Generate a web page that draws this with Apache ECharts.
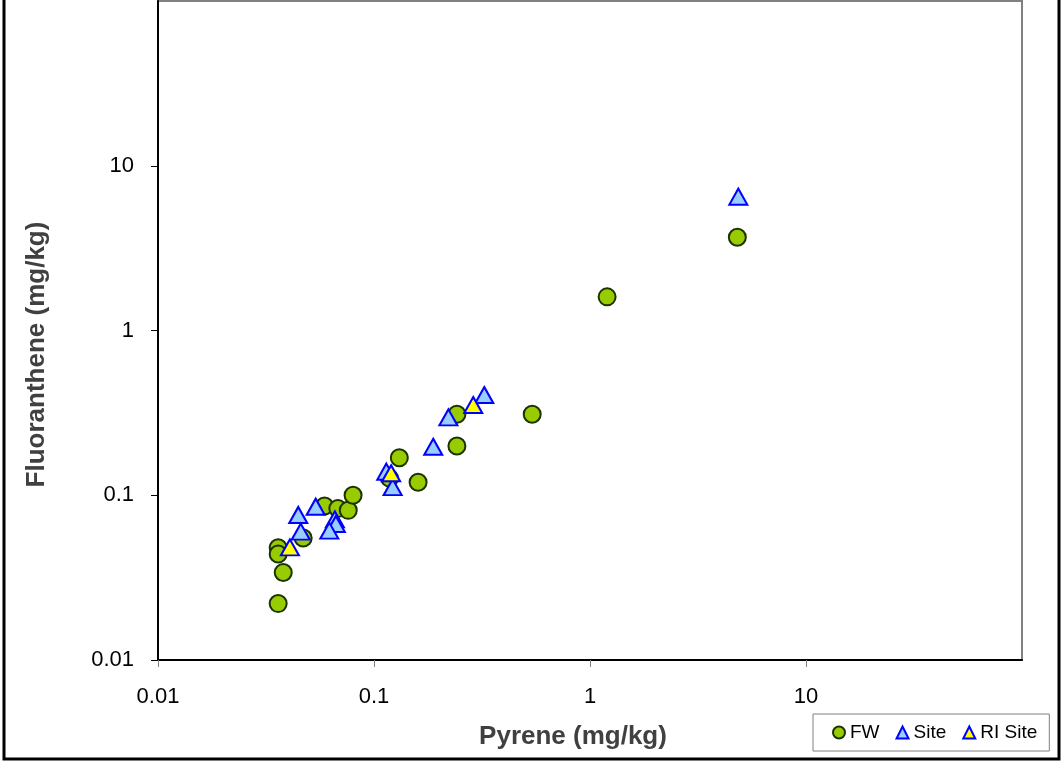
<!DOCTYPE html>
<html>
<head>
<meta charset="utf-8">
<title>Pyrene vs Fluoranthene</title>
<script src="https://cdn.jsdelivr.net/npm/echarts@6.0.0/dist/echarts.min.js"></script>
<style>
    html, body { margin: 0; padding: 0; background: #fff; }
    #main { width: 1062px; height: 761px; }
</style>
</head>
<body>
<div id="main"></div>
<script>
// 数据: Pyrene (x) / Fluoranthene (y), mg/kg
var fwX = [0.036, 0.036, 0.038, 0.036, 0.047, 0.059, 0.068, 0.076, 0.080, 0.118, 0.131, 0.160, 0.242, 0.242, 0.54, 1.20, 4.81];
var fwY = [0.048, 0.044, 0.034, 0.022, 0.055, 0.086, 0.083, 0.081, 0.100, 0.127, 0.169, 0.120, 0.199, 0.310, 0.310, 1.60, 3.68];

var siteX = [0.0446, 0.0537, 0.0458, 0.0659, 0.0666, 0.0621, 0.114, 0.122, 0.188, 0.221, 0.324, 4.86];
var siteY = [0.0759, 0.0852, 0.0601, 0.0714, 0.0669, 0.0610, 0.139, 0.112, 0.197, 0.297, 0.406, 6.49];

var riX = [0.0408, 0.120, 0.288];
var riY = [0.0483, 0.136, 0.353];

var seriesNames = ['FW', 'Site', 'RI Site'];
var tickValues = [0.01, 0.1, 1, 10];
var axisMin = 0.01, axisMax = 100;

function pairs(xs, ys) {
    var out = [];
    for (var i = 0; i < xs.length; i++) {
        out.push([xs[i], ys[i]]);
    }
    return out;
}

// 刻度标签: 0.01, 0.1, 1, 10 (最上/最右的 100 不显示)
function tickLabel(v) {
    var n = parseFloat(v.toPrecision(3));
    return n >= axisMax ? '' : String(n);
}

var chart = echarts.init(document.getElementById('main'));

chart.setOption({
    animation: false,
    backgroundColor: '#fff',
    textStyle: {fontFamily: 'Liberation Sans, Arial, sans-serif'},
    graphic: [{
        type: 'rect',
        z: -1,
        shape: {x: 4, y: -10, width: 1055, height: 769},
        style: {fill: 'none', stroke: '#000', lineWidth: 3}
    }],
    grid: {
        left: 158,
        right: 40,
        top: 1,
        bottom: 101,
        show: true,
        borderColor: '#808080',
        borderWidth: 2
    },
    legend: {
        data: seriesNames,
        left: 813,
        top: 714,
        orient: 'horizontal',
        padding: [9, 12, 9, 19],
        itemGap: 16,
        itemWidth: 12,
        itemHeight: 12,
        borderColor: '#808080',
        borderWidth: 1,
        backgroundColor: '#fff',
        textStyle: {fontSize: 19, color: '#000'}
    },
    xAxis: {
        type: 'log',
        logBase: 10,
        min: axisMin,
        max: axisMax,
        name: 'Pyrene (mg/kg)',
        nameLocation: 'middle',
        nameGap: 64,
        nameTextStyle: {
            fontSize: 26,
            fontWeight: 'bold',
            color: '#404040',
            padding: [0, 34, 0, 0]
        },
        axisLine: {show: true, lineStyle: {color: '#000', width: 2}},
        axisTick: {show: true, length: 7, customValues: tickValues, lineStyle: {color: '#808080'}},
        minorTick: {show: false},
        splitLine: {show: false},
        axisLabel: {
            fontSize: 22,
            color: '#000',
            margin: 26,
            formatter: tickLabel
        }
    },
    yAxis: {
        type: 'log',
        logBase: 10,
        min: axisMin,
        max: axisMax,
        name: 'Fluoranthene (mg/kg)',
        nameLocation: 'middle',
        nameGap: 108,
        nameTextStyle: {
            fontSize: 26,
            fontWeight: 'bold',
            color: '#404040',
            padding: [0, 48, 0, 0]
        },
        axisLine: {show: true, lineStyle: {color: '#000', width: 2}},
        axisTick: {show: true, length: 7, customValues: tickValues, lineStyle: {color: '#000'}},
        minorTick: {show: false},
        splitLine: {show: false},
        axisLabel: {
            fontSize: 22,
            color: '#000',
            margin: 24,
            formatter: tickLabel
        }
    },
    series: [
        {
            name: seriesNames[0],
            type: 'scatter',
            symbol: 'circle',
            symbolSize: 17,
            z: 2,
            itemStyle: {color: '#99CC00', borderColor: '#1a3300', borderWidth: 2, opacity: 1},
            data: pairs(fwX, fwY)
        },
        {
            name: seriesNames[1],
            type: 'scatter',
            symbol: 'triangle',
            symbolSize: [18, 16],
            z: 3,
            itemStyle: {color: '#99CCFF', borderColor: '#0000FF', borderWidth: 2, opacity: 1},
            data: pairs(siteX, siteY)
        },
        {
            name: seriesNames[2],
            type: 'scatter',
            symbol: 'triangle',
            symbolSize: [18, 16],
            z: 4,
            itemStyle: {color: '#FFFF00', borderColor: '#0000FF', borderWidth: 2, opacity: 1},
            data: pairs(riX, riY)
        }
    ]
});
</script>
</body>
</html>
